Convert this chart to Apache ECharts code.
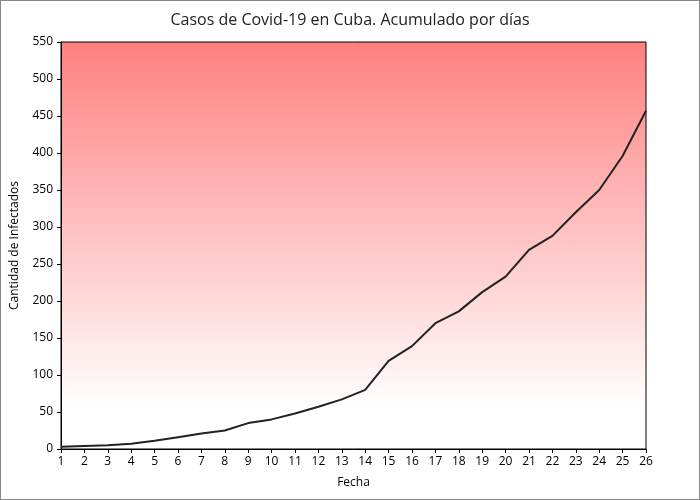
<!DOCTYPE html>
<html>
<head>
<meta charset="utf-8">
<script src="https://cdn.jsdelivr.net/npm/echarts@6/dist/echarts.min.js"></script>
<style>
  html, body { margin: 0; padding: 0; background: #fff; }
  #chart { width: 698px; height: 498px; border: 1px solid #888; }
</style>
</head>
<body>
<div id="chart"></div>
<script>
var dias = ['1','2','3','4','5','6','7','8','9','10','11','12','13','14','15','16','17','18','19','20','21','22','23','24','25','26'];
var casos = [3,4,5,7,11,16,21,25,35,40,48,57,67,80,119,139,170,186,212,233,269,288,320,350,396,457];

var fuente = 'Open Sans';
var option = {
    backgroundColor: '#fff',
    textStyle: { fontFamily: fuente, color: '#000' },
    title: {
        text: 'Casos de Covid-19 en Cuba. Acumulado por días',
        left: 'center',
        top: 6,
        textStyle: { fontFamily: fuente, fontSize: 16, fontWeight: 'normal', color: '#222' }
    },
    grid: {
        left: 59, right: 53, top: 41, bottom: 50,
        show: true,
        borderColor: '#000',
        borderWidth: 1,
        backgroundColor: new echarts.graphic.LinearGradient(0, 0, 0, 1, [
            { offset: 0, color: 'rgb(255,128,128)' },
            { offset: 0.9, color: '#ffffff' },
            { offset: 1, color: '#ffffff' }
        ])
    },
    xAxis: {
        type: 'category',
        data: dias,
        boundaryGap: false,
        name: 'Fecha',
        nameLocation: 'middle',
        nameGap: 28,
        nameTextStyle: { fontSize: 12, color: '#000' },
        axisLine: { lineStyle: { color: '#000' } },
        axisTick: { show: true, inside: false, length: 4, lineStyle: { color: '#000' } },
        axisLabel: { interval: 0, color: '#000', fontSize: 12, margin: 7 },
        splitLine: { show: false }
    },
    yAxis: {
        type: 'value',
        min: 0, max: 550, interval: 50,
        name: 'Cantidad de Infectados',
        nameLocation: 'middle',
        nameGap: 40,
        nameTextStyle: { fontSize: 12, color: '#000' },
        axisLine: { show: true, lineStyle: { color: '#000' } },
        axisTick: { show: true, length: 4, lineStyle: { color: '#000' } },
        axisLabel: { color: '#000', fontSize: 12, margin: 8 },
        splitLine: { show: false }
    },
    series: [{
        type: 'line',
        data: casos,
        symbol: 'none',
        lineStyle: { color: '#222', width: 2 },
        label: {
            show: true,
            position: 'top',
            offset: [-4, 0],
            color: '#000',
            fontSize: 12,
            fontFamily: fuente
        }
    }]
};

var myChart = echarts.init(document.getElementById('chart'));
myChart.setOption(option);
</script>
</body>
</html>
